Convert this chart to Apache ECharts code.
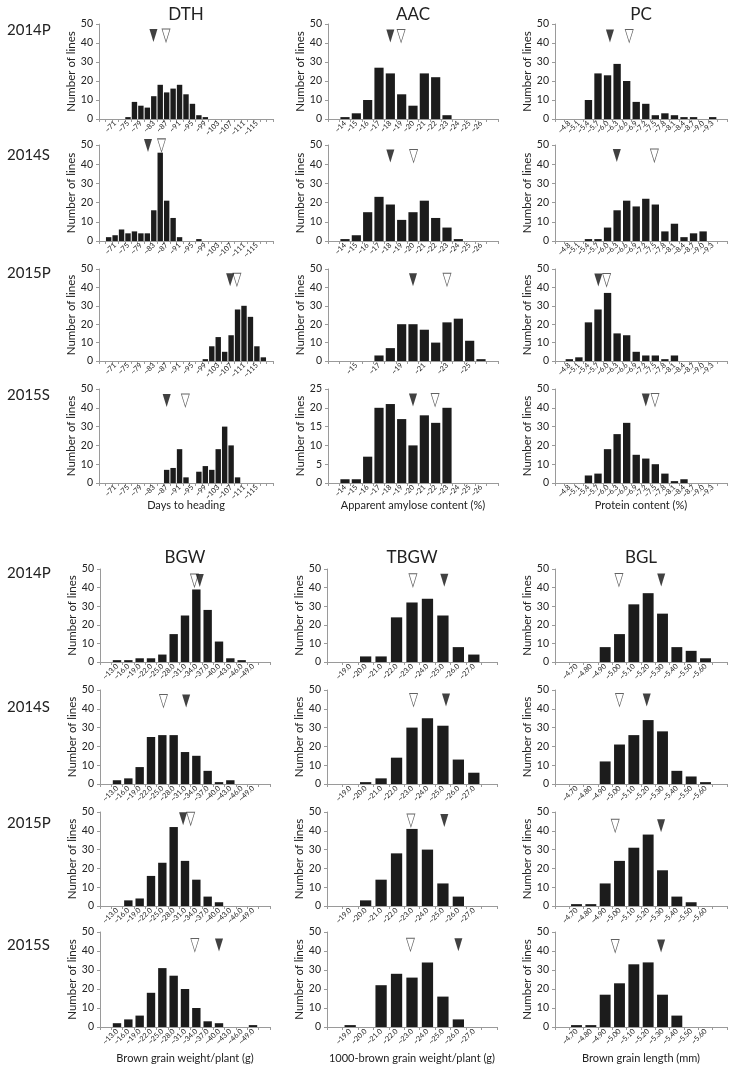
<!DOCTYPE html>
<html><head><meta charset="utf-8">
<script src="https://cdn.jsdelivr.net/npm/echarts/dist/echarts.min.js"></script>
<style>html,body{margin:0;padding:0;background:#fff}#c{width:735px;height:1072px}</style>
</head><body><div id="c"></div>
<script>
const FONT = 'Lato, "Open Sans", sans-serif';
const years = ['2014P', '2014S', '2015P', '2015S'];

// ---- tick labels ----
const dthLabels = ['~69','~71','~73','~75','~77','~79','~81','~83','~85','~87','~89','~91','~93','~95','~97','~99','~101','~103','~105','~107','~109','~111','~113','~115','~117'];
const aacLabels = ['~14','~15','~16','~17','~18','~19','~20','~21','~22','~23','~24','~25','~26'];
const pcLabels = ['~4.8','~5.1','~5.4','~5.7','~6.0','~6.3','~6.6','~6.9','~7.2','~7.5','~7.8','~8.1','~8.4','~8.7','~9.0','~9.3'];
const bgwLabels = ['~13.0','~16.0','~19.0','~22.0','~25.0','~28.0','~31.0','~34.0','~37.0','~40.0','~43.0','~46.0','~49.0'];
const tbgwLabels = ['~19.0','~20.0','~21.0','~22.0','~23.0','~24.0','~25.0','~26.0','~27.0'];
const bglLabels = ['~4.70','~4.80','~4.90','~5.00','~5.10','~5.20','~5.30','~5.40','~5.50','~5.60'];

// ---- counts (number of lines) ----
const dth2014P = [0,0,0,1,9,7,6,12,18,14,16,18,13,8,2,1,0,0,0,0,0,0,0,0,0];
const dth2014S = [2,3,6,4,5,4,4,16,46,21,12,2,0,0,1,0,0,0,0,0,0,0,0,0,0];
const dth2015P = [0,0,0,0,0,0,0,0,0,0,0,0,0,0,0,1,8,13,5,14,28,30,24,8,2];
const dth2015S = [0,0,0,0,0,0,0,0,0,7,8,18,3,0,6,9,7,18,30,20,3,0,0,0,0];

const aac2014P = [1,3,10,27,24,13,7,24,22,2,0,0,0];
const aac2014S = [1,3,15,23,19,11,15,21,12,7,1,0,0];
const aac2015P = [0,0,0,3,7,20,20,17,10,21,23,11,1];
const aac2015S = [1,1,7,20,21,17,10,18,16,20,0,0,0];

const pc2014P = [0,0,10,24,23,29,20,9,8,2,3,2,1,1,0,1];
const pc2014S = [0,0,1,1,7,16,21,18,22,19,5,9,2,4,5,0];
const pc2015P = [1,2,21,28,37,15,14,5,3,3,1,3,0,0,0,0];
const pc2015S = [0,0,4,5,18,26,32,15,13,10,5,1,2,0,0,0];

const bgw2014P = [1,1,2,2,4,15,25,39,28,11,2,1,0];
const bgw2014S = [2,3,9,25,26,26,17,15,7,1,2,0,0];
const bgw2015P = [0,3,4,16,23,42,24,14,5,2,0,0,0];
const bgw2015S = [2,4,6,18,31,27,20,10,3,2,0,0,1];

const tbgw2014P = [0,3,3,24,32,34,25,8,4];
const tbgw2014S = [0,1,3,14,30,35,31,13,6];
const tbgw2015P = [0,3,14,28,41,30,12,5,0];
const tbgw2015S = [1,0,22,28,26,34,16,4,0];

const bgl2014P = [0,0,8,15,31,37,26,8,6,2];
const bgl2014S = [0,0,12,21,26,34,28,7,4,1];
const bgl2015P = [1,1,12,24,31,38,19,5,2,0];
const bgl2015S = [1,1,17,23,33,34,17,6,0,0];

// ---- triangle markers (x in trait units, y in count units) ----
const dthFilled = [82.9, 81.2, 106.7, 87.0];
const dthOpen   = [86.8, 85.4, 108.8, 92.8];
const dthMarkY  = [43.9, 49.8, 44.2, 43.9];
const aacFilled = [18.0, 18.0, 20.0, 20.0];
const aacOpen   = [18.95, 20.05, 23.0, 21.95];
const aacMarkY  = [43.7, 44.3, 44.2, 22.1];
const pcFilled  = [6.075, 6.29, 5.71, 7.2];
const pcOpen    = [6.68, 7.47, 5.97, 7.49];
const pcMarkY   = [43.7, 44.5, 44.0, 44.2];
const bgwFilled = [34.9, 31.3, 30.5, 40.0];
const bgwOpen   = [33.5, 25.3, 32.5, 33.6];
const bgwMarkY  = [43.8, 44.2, 46.4, 43.1];
const tbgwFilled = [25.09, 25.2, 25.09, 26.0];
const tbgwOpen   = [23.06, 23.1, 22.93, 22.9];
const tbgwMarkY  = [43.9, 44.7, 45.5, 43.3];
const bglFilled = [5.291, 5.19, 5.29, 5.29];
const bglOpen   = [4.996, 5.0, 4.97, 4.97];
const bglMarkY  = [44.1, 44.7, 42.7, 42.6];

const aacYMax = [50, 50, 50, 25];
const aacLabelStep = [1, 1, 2, 1];

// ---- layout ----
const topCols = [{left:99,width:174},{left:328,width:170},{left:555,width:172}];
const botCols = [{left:100,width:170},{left:327,width:170},{left:555,width:172}];
const topRows = [[24,119],[145,241],[269,361],[389,483]];
const botRows = [[569,662],[690,784],[812,906],[932,1027]];

const traits = [
  {title:'DTH', xname:'Days to heading', labels:dthLabels, data:[dth2014P,dth2014S,dth2015P,dth2015S], filled:dthFilled, open:dthOpen, markY:dthMarkY, first:69, step:2, labelStep:[2,2,2,2], gap:'16%', block:0, col:0},
  {title:'AAC', xname:'Apparent amylose content (%)', labels:aacLabels, data:[aac2014P,aac2014S,aac2015P,aac2015S], filled:aacFilled, open:aacOpen, markY:aacMarkY, first:14, step:1, labelStep:aacLabelStep, yMax:aacYMax, gap:'19%', block:0, col:1},
  {title:'PC', xname:'Protein content (%)', labels:pcLabels, data:[pc2014P,pc2014S,pc2015P,pc2015S], filled:pcFilled, open:pcOpen, markY:pcMarkY, first:4.8, step:0.3, gap:'23%', block:0, col:2},
  {title:'BGW', xname:'Brown grain weight/plant (g)', labels:bgwLabels, data:[bgw2014P,bgw2014S,bgw2015P,bgw2015S], filled:bgwFilled, open:bgwOpen, markY:bgwMarkY, first:13, step:3, gap:'26%', block:1, col:0},
  {title:'TBGW', xname:'1000-brown grain weight/plant (g)', labels:tbgwLabels, data:[tbgw2014P,tbgw2014S,tbgw2015P,tbgw2015S], filled:tbgwFilled, open:tbgwOpen, markY:tbgwMarkY, first:19, step:1, gap:'27%', block:1, col:1},
  {title:'BGL', xname:'Brown grain length (mm)', labels:bglLabels, data:[bgl2014P,bgl2014S,bgl2015P,bgl2015S], filled:bglFilled, open:bglOpen, markY:bglMarkY, first:4.70, step:0.1, gap:'24%', block:1, col:2}
];

const TRI = 'path://M0,0L10,0L5,16Z';
const AX = '#9a9a9a';
const TXT = '#222222';

const option = {animation:false, grid:[], xAxis:[], yAxis:[], series:[], graphic:[]};
let g = 0;
traits.forEach(t => {
  const cols = t.block === 0 ? topCols : botCols;
  const rows = t.block === 0 ? topRows : botRows;
  const c = cols[t.col];
  const n = t.labels.length;
  const cats = [''].concat(t.labels, [' ']);
  for (let y = 0; y < 4; y++) {
    const r = rows[y];
    const st = t.labelStep ? t.labelStep[y] : 1;
    const ymax = t.yMax ? t.yMax[y] : 50;
    option.grid.push({left:c.left, width:c.width, top:r[0], height:r[1]-r[0], containLabel:false, outerBoundsMode:'none'});
    option.xAxis.push({
      type:'category', gridIndex:g, data:cats, boundaryGap:true,
      axisLine:{show:true, lineStyle:{color:AX, width:1}},
      axisTick:{show:true, interval:0, length:3, lineStyle:{color:AX}},
      axisLabel:{
        interval:0,
        formatter:(val, i) => { const rr = i - 1; return (rr >= 0 && rr < n && (st === 1 || rr % 2 === 1)) ? val : ''; },
        rotate:45, fontSize:7.3, margin:3, color:TXT, fontFamily:FONT,
        hideOverlap:false, showMinLabel:true, showMaxLabel:true
      },
      splitLine:{show:false}
    });
    option.xAxis.push({type:'value', gridIndex:g, min:t.first - 1.5*t.step, max:t.first + (n + 0.5)*t.step, show:false, splitLine:{show:false}});
    option.yAxis.push({
      type:'value', gridIndex:g, min:0, max:ymax, interval:ymax/5,
      name:'Number of lines', nameLocation:'middle', nameGap:22,
      nameTextStyle:{fontSize:11.5, color:TXT, fontFamily:FONT},
      axisLine:{show:true, lineStyle:{color:AX, width:1}},
      axisTick:{show:true, length:3, lineStyle:{color:AX}},
      axisLabel:{fontSize:10.5, color:TXT, margin:6, fontFamily:FONT},
      splitLine:{show:false}
    });
    option.series.push({
      type:'bar', xAxisIndex:2*g, yAxisIndex:g,
      data:[0].concat(t.data[y], [0]),
      barCategoryGap:t.gap, itemStyle:{color:'#1c1c1c'}, silent:true
    });
    option.series.push({
      type:'scatter', xAxisIndex:2*g+1, yAxisIndex:g,
      data:[[t.open[y], t.markY[y]]], symbol:TRI, symbolSize:[8,13], clip:false, z:3,
      itemStyle:{color:'#ffffff', borderColor:'#3a3a3a', borderWidth:0.8}, silent:true
    });
    option.series.push({
      type:'scatter', xAxisIndex:2*g+1, yAxisIndex:g,
      data:[[t.filled[y], t.markY[y]]], symbol:TRI, symbolSize:[8,13], clip:false, z:4,
      itemStyle:{color:'#111111'}, silent:true
    });
    g++;
  }
  const cx = c.left + c.width/2;
  const titleY = t.block === 0 ? 15 : 558;
  const nameY = t.block === 0 ? 505 : 1058;
  option.graphic.push({type:'text', x:cx, y:titleY, style:{text:t.title, fontSize:17, fontFamily:FONT, fill:TXT, align:'center', verticalAlign:'middle'}});
  option.graphic.push({type:'text', x:cx, y:nameY, style:{text:t.xname, fontSize:11, fontFamily:FONT, fill:TXT, align:'center', verticalAlign:'middle'}});
});

const rowLabelY = [[30,155,273,395],[573,707,823,945]];
rowLabelY.forEach(arr => arr.forEach((yy, i) => {
  option.graphic.push({type:'text', x:7, y:yy, style:{text:years[i], fontSize:15, fontFamily:FONT, fill:TXT, align:'left', verticalAlign:'middle'}});
}));

const chart = echarts.init(document.getElementById('c'), null, {renderer:'canvas'});
chart.setOption(option);
</script>
</body></html>
